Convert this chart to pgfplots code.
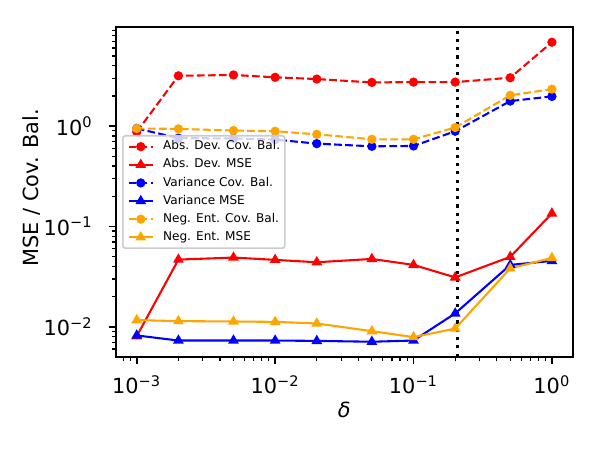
\documentclass[border=0pt]{standalone}
\usepackage{fontspec}
\setmainfont{DejaVu Sans}
\usepackage{pgfplots}
\pgfplotsset{compat=1.18}
\definecolor{mplred}{RGB}{255,0,0}
\definecolor{mplblue}{RGB}{0,0,255}
\definecolor{mplorange}{RGB}{255,165,0}
\begin{document}
\begin{tikzpicture}
\useasboundingbox (-55.68pt,-44.8pt) rectangle (232.32pt,171.2pt);
\begin{axis}[
  scale only axis, width=219.2pt, height=158.1pt,
  xmode=log, ymode=log,
  xmin=7.08e-4, xmax=1.413,
  ymin=0.00504, ymax=9.68,
  axis line style={line width=0.8pt},
  tick align=outside, tick pos=left,
  major tick length=3.5pt, minor tick length=2pt,
  every tick/.style={black, line width=0.8pt},
  every minor tick/.style={black, line width=0.6pt},
  xtick={0.001,0.01,0.1,1},
  xticklabels={10\textsuperscript{−3},10\textsuperscript{−2},10\textsuperscript{−1},10\textsuperscript{0}},
  minor xtick={8e-4,9e-4,2e-3,3e-3,4e-3,5e-3,6e-3,7e-3,8e-3,9e-3,0.02,0.03,0.04,0.05,0.06,0.07,0.08,0.09,0.2,0.3,0.4,0.5,0.6,0.7,0.8,0.9},
  ytick={0.01,0.1,1},
  yticklabels={10\textsuperscript{−2},10\textsuperscript{−1},10\textsuperscript{0}},
  minor ytick={6e-3,7e-3,8e-3,9e-3,0.02,0.03,0.04,0.05,0.06,0.07,0.08,0.09,0.2,0.3,0.4,0.5,0.6,0.7,0.8,0.9,2,3,4,5,6,7,8,9},
  xticklabel style={font=\fontsize{10}{12}\selectfont, anchor=base, inner sep=0pt, yshift=-14.4pt},
  yticklabel style={font=\fontsize{10}{12}\selectfont, anchor=east, inner sep=0pt, xshift=-7.5pt},
  xlabel={\textit{δ}},
  ylabel={MSE / Cov. Bal.},
  label style={font=\fontsize{10}{12}\selectfont},
  xlabel style={at={(axis description cs:0.5,0)}, anchor=center, yshift=-25.6pt},
  ylabel style={at={(axis description cs:0,0.5)}, anchor=center, yshift=40.3pt, xshift=2pt},
  legend cell align=left,
  legend style={at={(axis description cs:0,0.5)}, anchor=west, xshift=2.9pt,
    font=\fontsize{5.8}{7}\selectfont,
    draw=black!20, line width=0.8pt, fill=white, fill opacity=0.8, text opacity=1, draw opacity=1,
    rounded corners=1.2pt, inner xsep=2.3pt, inner ysep=2.3pt, row sep=2.9pt,
    nodes={inner sep=0pt, text height=4.4pt, text depth=1.4pt},
    /tikz/every odd column/.style={column sep=4.4pt}},
  legend image code/.code={\draw[mark repeat=2,mark phase=2,fill opacity=1,draw opacity=1,#1] plot coordinates {(0pt,0pt) (5.8pt,0pt) (11.6pt,0pt)};},
  every axis plot/.append style={line width=1pt},
]
\addplot[black, line width=1.5pt, dash pattern=on 1.5pt off 2.475pt, forget plot] coordinates {(0.208,0.00504) (0.208,9.68)};

\addplot[mplred, dash pattern=on 3.7pt off 1.6pt, mark=*, mark size=1.7pt, mark options={solid}] coordinates {
(0.001,0.877) (0.002,3.18) (0.005,3.24) (0.01,3.07) (0.02,2.95) (0.05,2.73) (0.1,2.75) (0.2,2.75) (0.5,3.04) (1,6.87)};
\addlegendentry{Abs. Dev. Cov. Bal.}
\addplot[mplred, mark=triangle*, mark size=2.0pt, mark options={solid}] coordinates {
(0.001,0.00807) (0.002,0.0468) (0.005,0.049) (0.01,0.0465) (0.02,0.044) (0.05,0.0475) (0.1,0.0414) (0.2,0.0311) (0.5,0.0498) (1,0.135)};
\addlegendentry{Abs. Dev. MSE}
\addplot[mplblue, dash pattern=on 3.7pt off 1.6pt, mark=*, mark size=1.7pt, mark options={solid}] coordinates {
(0.001,0.95) (0.002,0.76) (0.005,0.755) (0.01,0.735) (0.02,0.67) (0.05,0.63) (0.1,0.635) (0.2,0.89) (0.5,1.78) (1,1.98)};
\addlegendentry{Variance Cov. Bal.}
\addplot[mplblue, mark=triangle*, mark size=2.0pt, mark options={solid}] coordinates {
(0.001,0.0082) (0.002,0.0073) (0.005,0.0073) (0.01,0.0073) (0.02,0.00724) (0.05,0.0071) (0.1,0.0073) (0.2,0.0136) (0.5,0.0414) (1,0.0454)};
\addlegendentry{Variance MSE}
\addplot[mplorange, dash pattern=on 3.7pt off 1.6pt, mark=*, mark size=1.7pt, mark options={solid}] coordinates {
(0.001,0.948) (0.002,0.94) (0.005,0.905) (0.01,0.89) (0.02,0.83) (0.05,0.74) (0.1,0.74) (0.2,0.97) (0.5,2.03) (1,2.34)};
\addlegendentry{Neg. Ent. Cov. Bal.}
\addplot[mplorange, mark=triangle*, mark size=2.0pt, mark options={solid}] coordinates {
(0.001,0.01166) (0.002,0.0114) (0.005,0.0113) (0.01,0.0112) (0.02,0.0108) (0.05,0.00905) (0.1,0.0079) (0.2,0.0096) (0.5,0.0383) (1,0.0486)};
\addlegendentry{Neg. Ent. MSE}
\end{axis}
\end{tikzpicture}
\end{document}
